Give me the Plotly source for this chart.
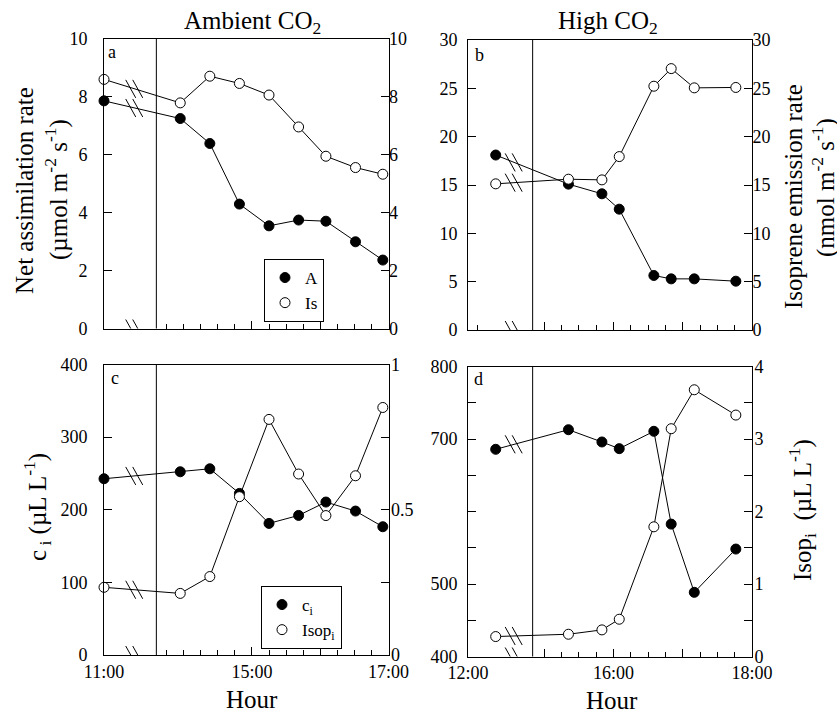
import plotly.graph_objects as go

DAY = "2000-01-01 "

# ---------------- data ----------------
# Ambient CO2 (panels a, c)
amb_time = ["11:00", "13:57", "14:23", "14:49", "15:15", "15:41", "16:05", "16:31", "16:55"]
amb_A = [7.85, 7.24, 6.38, 4.29, 3.54, 3.74, 3.70, 2.99, 2.36]
amb_Is = [8.59, 7.78, 8.70, 8.45, 8.05, 6.95, 5.94, 5.55, 5.32]
amb_ci = [242.7, 252.3, 256.4, 222.5, 181.2, 192.2, 210.6, 198.2, 176.6]
amb_isop = [0.233, 0.212, 0.270, 0.545, 0.811, 0.623, 0.480, 0.617, 0.852]

# High CO2 (panels b, d)
high_time = ["12:24", "15:21", "15:50", "16:05", "16:35", "16:50", "17:10", "17:46"]
high_A = [18.1, 15.09, 14.09, 12.5, 5.64, 5.29, 5.29, 5.05]
high_Is = [15.12, 15.6, 15.53, 17.94, 25.22, 27.04, 25.05, 25.09]
high_ci = [685.8, 712.8, 695.9, 686.7, 710.6, 582.6, 488.5, 548.2]
high_isop = [0.275, 0.307, 0.367, 0.514, 1.789, 3.142, 3.679, 3.33]

# axis settings (time axis with a compressed early segment)
amb_range = ["11:00", "17:00"]
amb_break = ["11:46", "13:36"]
amb_major = ["11:00", "15:00", "16:00", "17:00"]
amb_major_text = ["11:00", "15:00", "", "17:00"]
amb_minor = ["13:45", "14:00", "14:15", "14:30", "14:45", "15:15", "15:30", "15:45",
             "16:15", "16:30", "16:45"]
amb_mark = "11:27"

high_range = ["12:00", "18:00"]
high_break = ["12:56", "14:50"]
high_major = ["12:00", "15:00", "16:00", "17:00", "18:00"]
high_major_text = ["12:00", "", "16:00", "", "18:00"]
high_minor = ["15:15", "15:30", "15:45", "16:15", "16:30", "16:45", "17:15", "17:30", "17:45"]
high_minor_b = ["12:08"] + high_minor
high_mark = "12:40"

ya_ticks = [0, 2, 4, 6, 8, 10]
yb_ticks = [0, 5, 10, 15, 20, 25, 30]
yc_left_ticks = [0, 100, 200, 300, 400]
yc_right_ticks = [0, 0.25, 0.5, 0.75, 1]
yc_right_text = ["0", "", "0.5", "", "1"]
yd_left_ticks = [400, 450, 500, 550, 600, 650, 700, 750, 800]
yd_left_text = ["400", "", "500", "", "", "", "700", "", "800"]
yd_right_ticks = [0, 0.5, 1, 1.5, 2, 2.5, 3, 3.5, 4]
yd_right_text = ["0", "", "1", "", "2", "", "3", "", "4"]


def d(ts):
    return [DAY + t for t in ts]


def tmin(t):
    h, m = t.split(":")
    return int(h) * 60 + int(m)


FONT = "Liberation Serif"
W, H = 837, 713


def fx(px):
    return px / W


def fy(py):
    return 1 - py / H


def px_x(a, b):
    return [fx(a), fx(b)]


def px_y(top, bottom):
    return [fy(bottom), fy(top)]


fig = go.Figure()


def add_series(times, vals, xa, ya, filled, name, legend, showleg):
    fig.add_trace(go.Scatter(x=d(times), y=vals, xaxis=xa, yaxis=ya, mode="lines",
                             line=dict(color="black", width=1), showlegend=False,
                             cliponaxis=False, hoverinfo="skip"))
    fig.add_trace(go.Scatter(x=d(times), y=vals, xaxis=xa, yaxis=ya, mode="markers",
                             marker=dict(size=10, symbol="circle",
                                         color="black" if filled else "white",
                                         line=dict(color="black", width=1)),
                             name=name, legend=legend, showlegend=showleg,
                             cliponaxis=False))


add_series(amb_time, amb_A, "x", "y", True, "A", "legend", True)
add_series(amb_time, amb_Is, "x", "y2", False, "Is", "legend", True)
add_series(high_time, high_A, "x2", "y3", True, "A", "legend", False)
add_series(high_time, high_Is, "x2", "y4", False, "Is", "legend", False)
add_series(amb_time, amb_ci, "x3", "y5", True, "c<sub>i</sub>", "legend2", True)
add_series(amb_time, amb_isop, "x3", "y6", False, "Isop<sub>i</sub>", "legend2", True)
add_series(high_time, high_ci, "x4", "y7", True, "c<sub>i</sub>", "legend2", False)
add_series(high_time, high_isop, "x4", "y8", False, "Isop<sub>i</sub>", "legend2", False)

axis_line = dict(showline=True, linecolor="black", linewidth=1, showgrid=False,
                 zeroline=False, ticks="inside", tickcolor="black", tickwidth=1,
                 automargin=False)
tickfont = dict(family=FONT, size=18, color="black")


def xaxis(dom, anchor, rng, brk, major, major_text, minor, labels):
    return dict(axis_line, type="date", domain=dom, anchor=anchor,
                range=d(rng), rangebreaks=[dict(bounds=d(brk))],
                tickmode="array", tickvals=d(major), ticktext=major_text,
                showticklabels=labels, ticklen=8, mirror=True,
                minor=dict(tickvals=d(minor), ticks="inside", ticklen=5,
                           tickcolor="black", tickwidth=1),
                tickfont=tickfont)


def yaxis(dom, anchor, rng, tv, tt, side, overlay=None, standoff=None):
    ax = dict(axis_line, domain=dom, anchor=anchor, range=rng, tickmode="array",
              tickvals=tv, ticktext=tt, side=side, ticklen=8, tickfont=tickfont)
    if overlay:
        ax["overlaying"] = overlay
    if standoff is not None:
        ax["ticklabelstandoff"] = standoff
    return ax


xa_dom = px_x(104, 388.5)
xb_dom = px_x(468, 752)
ya_dom = px_y(38.5, 328.5)
yb_dom = px_y(40, 330)
yc_dom = px_y(364.5, 655)
yd_dom = px_y(366.5, 656.5)

leg_font = dict(family=FONT, size=17, color="black")
fig.update_layout(
    width=W, height=H, margin=dict(l=0, r=0, t=0, b=0, pad=0, autoexpand=False),
    paper_bgcolor="white", plot_bgcolor="white",
    font=dict(family=FONT, color="black"),
    xaxis=xaxis(xa_dom, "y", amb_range, amb_break, amb_major, amb_major_text, amb_minor, False),
    xaxis2=xaxis(xb_dom, "y3", high_range, high_break, high_major, high_major_text, high_minor_b, False),
    xaxis3=xaxis(xa_dom, "y5", amb_range, amb_break, amb_major, amb_major_text, amb_minor, True),
    xaxis4=xaxis(xb_dom, "y7", high_range, high_break, high_major, high_major_text, high_minor, True),
    yaxis=yaxis(ya_dom, "x", [0, 10], ya_ticks, [str(v) for v in ya_ticks], "left", standoff=12),
    yaxis2=yaxis(ya_dom, "x", [0, 10], ya_ticks, [str(v) for v in ya_ticks], "right", overlay="y", standoff=-4),
    yaxis3=yaxis(yb_dom, "x2", [0, 30], yb_ticks, [str(v) for v in yb_ticks], "left", standoff=6),
    yaxis4=yaxis(yb_dom, "x2", [0, 30], yb_ticks, [str(v) for v in yb_ticks], "right", overlay="y3", standoff=-4),
    yaxis5=yaxis(yc_dom, "x3", [0, 400], yc_left_ticks, [str(v) for v in yc_left_ticks], "left", standoff=12),
    yaxis6=yaxis(yc_dom, "x3", [0, 1], yc_right_ticks, yc_right_text, "right", overlay="y5", standoff=-2),
    yaxis7=yaxis(yd_dom, "x4", [400, 800], yd_left_ticks, yd_left_text, "left", standoff=6),
    yaxis8=yaxis(yd_dom, "x4", [0, 4], yd_right_ticks, yd_right_text, "right", overlay="y7", standoff=-2),
    legend=dict(x=fx(324), y=fy(259), xanchor="right", yanchor="top",
                bordercolor="black", borderwidth=1, bgcolor="white",
                font=leg_font, itemwidth=30, tracegroupgap=0),
    legend2=dict(x=fx(342), y=fy(586), xanchor="right", yanchor="top",
                 bordercolor="black", borderwidth=1, bgcolor="white",
                 font=leg_font, itemwidth=30, tracegroupgap=0),
)

# vertical line at axis break
for xa, ya_, brk in [("x", "y", amb_break), ("x2", "y3", high_break),
                     ("x3", "y5", amb_break), ("x4", "y7", high_break)]:
    fig.add_shape(type="line", xref=xa, yref=ya_ + " domain", x0=DAY + brk[1], x1=DAY + brk[1],
                  y0=0, y1=1, line=dict(color="black", width=1))


# break marks "\\" on the axis and on the connecting segments
def marks(xa, ya_, xm, yv):
    for dx in (-4, 3):
        fig.add_shape(type="line", xref=xa, yref=ya_, xsizemode="pixel", ysizemode="pixel",
                      xanchor=DAY + xm, yanchor=yv, x0=dx - 5, x1=dx + 5, y0=9, y1=-9,
                      line=dict(color="black", width=1))


def seg_y(times, vals, brk, xm):
    gap = tmin(brk[1]) - tmin(brk[0])

    def eff(t):
        m = tmin(t)
        return m - gap if m >= tmin(brk[1]) else m
    f = (eff(xm) - eff(times[0])) / (eff(times[1]) - eff(times[0]))
    return vals[0] + (vals[1] - vals[0]) * f


for xa, ya_, times, brk, xm, lo, series in [
    ("x", "y", amb_time, amb_break, amb_mark, 0, [(amb_A, "y"), (amb_Is, "y2")]),
    ("x2", "y3", high_time, high_break, high_mark, 0, [(high_A, "y3"), (high_Is, "y4")]),
    ("x3", "y5", amb_time, amb_break, amb_mark, 0, [(amb_ci, "y5"), (amb_isop, "y6")]),
    ("x4", "y7", high_time, high_break, high_mark, 400, [(high_ci, "y7"), (high_isop, "y8")]),
]:
    marks(xa, ya_, xm, lo)
    for vals, yref in series:
        marks(xa, yref, xm, seg_y(times, vals, brk, xm))

# text
big = dict(family=FONT, size=25, color="black")
ann = [
    dict(text="Ambient CO<sub>2</sub>", x=fx(252), y=fy(23), font=big),
    dict(text="High CO<sub>2</sub>", x=fx(608), y=fy(23), font=big),
    dict(text="Hour", x=fx(252), y=fy(699), font=big),
    dict(text="Hour", x=fx(612), y=fy(700), font=big),
    dict(text="Net assimilation rate", x=fx(25), y=fy(191), font=big, textangle=-90),
    dict(text="(µmol m<sup>-2</sup> s<sup>-1</sup>)", x=fx(57), y=fy(190), font=big, textangle=-90),
    dict(text="Isoprene emission rate", x=fx(793), y=fy(197), font=big, textangle=-90),
    dict(text="(nmol m<sup>-2</sup> s<sup>-1</sup>)", x=fx(823), y=fy(188), font=big, textangle=-90),
    dict(text="c<sub> i</sub> (µL L<sup>-1</sup>)", x=fx(37), y=fy(507), font=big, textangle=-90),
    dict(text="Isop<sub>i</sub>  (µL L<sup>-1</sup>)", x=fx(802), y=fy(510), font=big, textangle=-90),
]
small = dict(family=FONT, size=18, color="black")
for letter, xx, yy in [("a", 112, 52), ("b", 479, 55), ("c", 115, 378), ("d", 478, 379)]:
    ann.append(dict(text=letter, x=fx(xx), y=fy(yy), font=small))
for a in ann:
    fig.add_annotation(xref="paper", yref="paper", showarrow=False,
                       xanchor="center", yanchor="middle", **a)

fig.write_html("out.html",
               config={"displayModeBar": False},
               post_script="document.body.style.margin='0px';"
                           "document.body.style.overflow='hidden';"
                           "document.documentElement.style.overflow='hidden';")
